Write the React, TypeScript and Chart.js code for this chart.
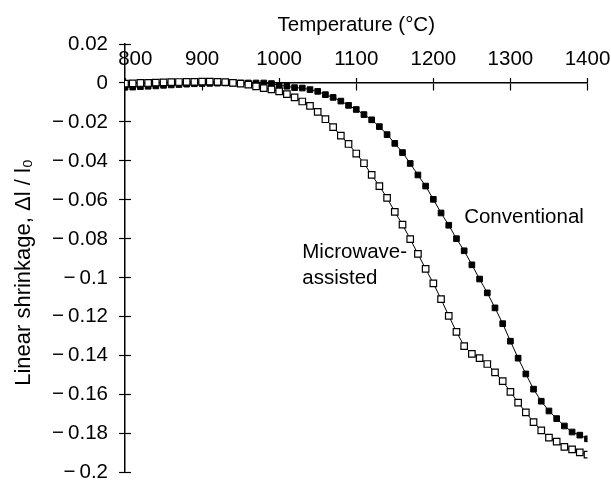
import React, { useEffect, useRef } from "react";
import { Chart, registerables } from "chart.js";

Chart.register(...registerables);

// ---- data ----
const temperatures = [
  800, 810, 820, 830, 840, 850, 860, 870, 880, 890,
  900, 910, 920, 930, 940, 950, 960, 970, 980, 990,
  1000, 1010, 1020, 1030, 1040, 1050, 1060, 1070, 1080, 1090,
  1100, 1110, 1120, 1130, 1140, 1150, 1160, 1170, 1180, 1190,
  1200, 1210, 1220, 1230, 1240, 1250, 1260, 1270, 1280, 1290,
  1300, 1310, 1320, 1330, 1340, 1350, 1360, 1370, 1380, 1390,
  1400,
];

const microwaveAssisted = [
  -0.0003, -0.0002, 0.0, 0.0, 0.0002, 0.0003, 0.0004, 0.0005, 0.0006, 0.0006,
  0.0007, 0.0007, 0.0006, 0.0004, 0.0001, -0.0003, -0.0008, -0.0017, -0.0026, -0.0033,
  -0.0043, -0.0057, -0.0074, -0.0095, -0.0117, -0.0148, -0.0186, -0.0227, -0.027, -0.0313,
  -0.0362, -0.0412, -0.0472, -0.0529, -0.059, -0.0661, -0.0727, -0.0801, -0.0877, -0.0954,
  -0.1028, -0.1109, -0.1195, -0.1277, -0.135, -0.139, -0.1412, -0.1442, -0.1485, -0.153,
  -0.1585, -0.164, -0.169, -0.174, -0.1783, -0.182, -0.184, -0.1867, -0.188, -0.1895,
  -0.1907,
];

const conventional = [
  -0.0022, -0.0021, -0.0019, -0.0017, -0.0015, -0.0012, -0.001, -0.0008, -0.0006, -0.0004,
  -0.0003, -0.0002, -0.0001, 0.0, 0.0, 0.0, 0.0, 0.0, 0.0, -0.0003,
  -0.0012, -0.0017, -0.0024, -0.0026, -0.0034, -0.0043, -0.006, -0.0074, -0.0093, -0.0115,
  -0.0136, -0.0162, -0.0189, -0.0224, -0.0265, -0.031, -0.0357, -0.0413, -0.0472, -0.0529,
  -0.0597, -0.0667, -0.073, -0.0799, -0.0861, -0.0933, -0.1006, -0.1077, -0.1154, -0.1235,
  -0.1325, -0.1412, -0.1493, -0.1571, -0.1633, -0.1683, -0.1722, -0.176, -0.1791, -0.1807,
  -0.1826,
];

const xAxisMin = 800;
const xAxisMax = 1400;
const xAxisStep = 100;
const yAxisMin = -0.2;
const yAxisMax = 0.02;
const yAxisStep = 0.02;

const xTitle = "Temperature (°C)";
const yTitle = "Linear shrinkage, Δl / l₀";

const curveLabels = [
  { lines: ["Conventional"], x: 1240, y: -0.069 },
  { lines: ["Microwave-", "assisted"], x: 1030, y: -0.087 },
];

// ---- styling ----
const FONT = "'Liberation Sans', Arial, Helvetica, sans-serif";
const FONT_SIZE = 20.5;

function formatY(v: number): string {
  const n = Number(v);
  if (Math.abs(n) < 1e-9) return "0";
  const s = Math.abs(n).toFixed(2).replace(/0$/, "");
  return n < 0 ? "\u2212\u2009" + s : s;
}

function formatX(v: number): string {
  const n = Math.round(Number(v));
  return n === xAxisMin ? "\u2003" + n : String(n);
}

const labelPlugin = {
  id: "curveLabels",
  afterDatasetsDraw(chart: any) {
    const { ctx, scales } = chart;
    const xs = scales.x;
    const ys = scales.y;
    ctx.save();
    ctx.font = `${FONT_SIZE}px ${FONT}`;
    ctx.fillStyle = "#000";
    ctx.textAlign = "left";
    ctx.textBaseline = "middle";
    for (const lab of curveLabels) {
      const px = xs.getPixelForValue(lab.x);
      const py = ys.getPixelForValue(lab.y);
      lab.lines.forEach((line, i) => {
        ctx.fillText(line, px, py + i * 26);
      });
    }
    ctx.restore();
  },
};

export default function App() {
  const canvasRef = useRef<HTMLCanvasElement | null>(null);

  useEffect(() => {
    const canvas = canvasRef.current;
    if (!canvas) return;

    const microData = temperatures.map((t, i) => ({ x: t, y: microwaveAssisted[i] }));
    const convData = temperatures.map((t, i) => ({ x: t, y: conventional[i] }));

    const tickFont = { family: FONT, size: FONT_SIZE, lineHeight: 1.0 };

    const chart = new Chart(canvas, {
      type: "line",
      data: {
        datasets: [
          {
            label: "Microwave-assisted",
            data: microData,
            xAxisID: "x",
            yAxisID: "y",
            borderColor: "#000",
            borderWidth: 1,
            backgroundColor: "#fff",
            pointStyle: "rect",
            pointRadius: 4.6,
            pointBorderWidth: 1.2,
            pointBorderColor: "#000",
            pointBackgroundColor: "#fff",
            tension: 0,
            fill: false,
          },
          {
            label: "Conventional",
            data: convData,
            xAxisID: "x",
            yAxisID: "y",
            borderColor: "#000",
            borderWidth: 1,
            backgroundColor: "#000",
            pointStyle: "rect",
            pointRadius: 4,
            pointBorderWidth: 1,
            pointBorderColor: "#000",
            pointBackgroundColor: "#000",
            tension: 0,
            fill: false,
          },
        ],
      },
      options: {
        animation: false,
        responsive: false,
        maintainAspectRatio: false,
        layout: { padding: { left: 0, right: 23.5, top: 0, bottom: 0 } },
        plugins: {
          legend: { display: false },
          tooltip: { enabled: false },
          title: {
            display: true,
            text: xTitle,
            fullSize: false,
            color: "#000",
            font: { family: FONT, size: FONT_SIZE, weight: "normal", lineHeight: 1.2 },
            padding: { top: 12.7, bottom: 6.7 },
          },
        },
        scales: {
          x: {
            type: "linear",
            axis: "x",
            min: xAxisMin,
            max: xAxisMax,
            position: { y: 0 } as any,
            ticks: {
              stepSize: xAxisStep,
              color: "#000",
              font: { family: FONT, size: FONT_SIZE, lineHeight: 1.2 },
              padding: -43,
              maxRotation: 0,
              callback: (v: any) => formatX(v),
            },
            grid: {
              drawOnChartArea: false,
              tickLength: 7,
              tickWidth: 1.2,
              tickColor: "#000",
            },
            border: { display: true, color: "#000", width: 1.5 },
          },
          xUp: {
            type: "linear",
            axis: "x",
            min: xAxisMin,
            max: xAxisMax,
            position: { y: 0 } as any,
            ticks: { stepSize: xAxisStep, display: false },
            grid: {
              drawOnChartArea: false,
              tickLength: -5,
              tickWidth: 1.2,
              tickColor: "#000",
            },
            border: { display: false },
          },
          y: {
            type: "linear",
            axis: "y",
            min: yAxisMin,
            max: yAxisMax,
            position: "left",
            afterFit: (scale: any) => {
              scale.width = 125;
            },
            ticks: {
              stepSize: yAxisStep,
              color: "#000",
              font: tickFont,
              padding: 11,
              callback: (v: any) => formatY(v),
            },
            grid: {
              drawOnChartArea: false,
              tickLength: 6,
              tickWidth: 1.2,
              tickColor: "#000",
            },
            border: { display: true, color: "#000", width: 1.5 },
            title: {
              display: true,
              text: yTitle + "\u2003 ",
              color: "#000",
              font: { family: FONT, size: 22, lineHeight: 1.2 },
              padding: { top: 11, bottom: 0 },
            },
          },
          yRight: {
            type: "linear",
            axis: "y",
            min: yAxisMin,
            max: yAxisMax,
            position: { x: xAxisMin } as any,
            ticks: { stepSize: yAxisStep, display: false },
            grid: {
              drawOnChartArea: false,
              tickLength: -6,
              tickWidth: 1.2,
              tickColor: "#000",
            },
            border: { display: false },
          },
        },
      },
      plugins: [labelPlugin],
    } as any);

    return () => {
      chart.destroy();
    };
  }, []);

  return (
    <div
      style={{
        position: "fixed",
        left: 0,
        top: 0,
        width: 611,
        height: 481,
        overflow: "hidden",
        background: "#fff",
      }}
    >
      <canvas ref={canvasRef} width={611} height={494} style={{ width: 611, height: 494, display: "block" }} />
    </div>
  );
}
